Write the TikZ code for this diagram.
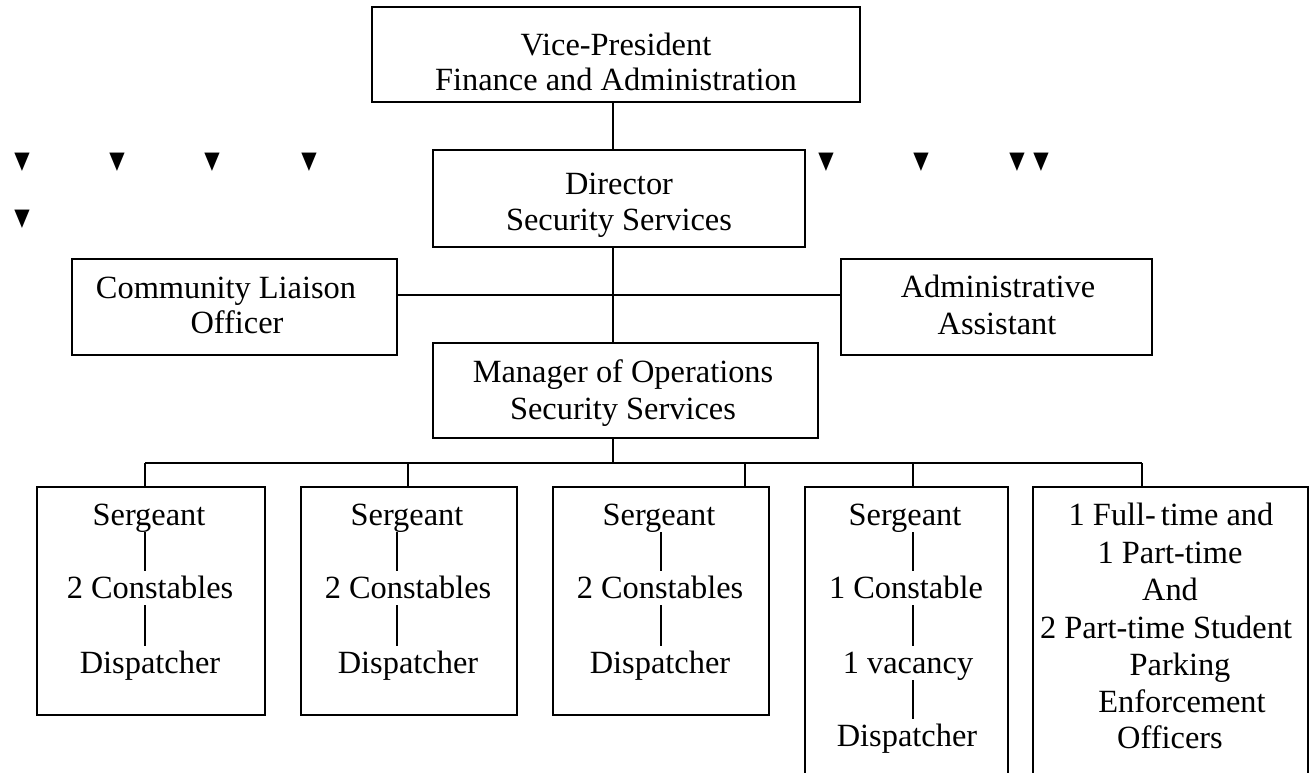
\documentclass[tikz,border=0pt]{standalone}
\usepackage{fontspec}
\setmainfont{Liberation Serif}
\newfontfamily\symfont{DejaVu Sans}
\usetikzlibrary{fit}
\begin{document}
\begin{tikzpicture}[x=0.5pt,y=-0.5pt,
  box/.style={draw, line width=0.9pt, inner sep=0pt},
  txt/.style={font=\fontsize{16.2}{18}\selectfont, inner sep=0pt, anchor=base, text height=11pt, text depth=3.5pt},
  conn/.style={line width=0.9pt},
  inner/.style={line width=0.9pt, shorten >=2.5pt},
  tri/.style={font=\symfont\fontsize{10}{10}\selectfont, inner sep=0pt, yscale=1.2}]
\useasboundingbox (0,0) rectangle (1311,772);
\clip (0,0) rectangle (1311,772);
% top boxes
\node[box, fit={(372,7) (860,102)}] (vp) {};
\node[txt] (vp1) at (616,55) {Vice-President};
\node[txt] (vp2) at (616,90) {Finance and Administration};
\node[box, fit={(433,150) (805,247)}] (dir) {};
\node[txt] (dir1) at (619,194) {Director};
\node[txt] (dir2) at (619,230) {Security Services};
\node[box, fit={(72,259) (397,355)}] (cl) {};
\node[txt] (cl1) at (226,298) {Community Liaison};
\node[txt] (cl2) at (237,333) {Officer};
\node[box, fit={(841,259) (1152,355)}] (aa) {};
\node[txt] (aa1) at (998,297) {Administrative};
\node[txt] (aa2) at (997,334) {Assistant};
\node[box, fit={(433,343) (818,438)}] (mgr) {};
\node[txt] (m1) at (623,382) {Manager of Operations};
\node[txt] (m2) at (623,419) {Security Services};
% spine connectors
\coordinate (sp) at (613,0);
\coordinate (hl) at (613,295);
\draw[conn] (vp.south -| sp) -- (dir.north -| sp);
\draw[conn] (dir.south -| sp) -- (mgr.north -| sp);
\draw[conn] (cl.east |- hl) -- (aa.west |- hl);
% bus
\coordinate (bus) at (613,463);
\coordinate (k1) at (145,463);
\coordinate (k2) at (408,463);
\coordinate (k3) at (745,463);
\coordinate (k4) at (913,463);
\coordinate (k5) at (1142,463);
\draw[conn] (mgr.south -| sp) -- (bus);
\draw[conn] (k1) -- (k5);
% bottom boxes
\node[box, fit={(37,487) (265,715)}] (b1) {};
\node[box, fit={(301,487) (517,715)}] (b2) {};
\node[box, fit={(553,487) (769,715)}] (b3) {};
\node[box, fit={(805,487) (1008,800)}] (b4) {};
\node[box, fit={(1033,487) (1308,800)}] (b5) {};
\draw[conn] (k1) -- (k1 |- b1.north);
\draw[conn] (k2) -- (k2 |- b2.north);
\draw[conn] (k3) -- (k3 |- b3.north);
\draw[conn] (k4) -- (k4 |- b4.north);
\draw[conn] (k5) -- (k5 |- b5.north);
% box 1
\node[txt] (s1) at (149,525) {Sergeant};
\node[txt] (c1) at (150,598) {2 Constables};
\node[txt] (d1) at (150,673) {Dispatcher};
\coordinate (l1) at (145,0);
\draw[inner] (s1.south -| l1) -- (c1.north -| l1);
\draw[inner] (c1.south -| l1) -- (d1.north -| l1);
% box 2
\node[txt] (s2) at (407,525) {Sergeant};
\node[txt] (c2) at (408,598) {2 Constables};
\node[txt] (d2) at (408,673) {Dispatcher};
\coordinate (l2) at (397,0);
\draw[inner] (s2.south -| l2) -- (c2.north -| l2);
\draw[inner] (c2.south -| l2) -- (d2.north -| l2);
% box 3
\node[txt] (s3) at (659,525) {Sergeant};
\node[txt] (c3) at (660,598) {2 Constables};
\node[txt] (d3) at (660,673) {Dispatcher};
\coordinate (l3) at (661,0);
\draw[inner] (s3.south -| l3) -- (c3.north -| l3);
\draw[inner] (c3.south -| l3) -- (d3.north -| l3);
% box 4
\node[txt] (s4) at (905,525) {Sergeant};
\node[txt] (c4) at (906,598) {1 Constable};
\node[txt] (v4) at (908,673) {1 vacancy};
\node[txt] (d4) at (907,746) {Dispatcher};
\coordinate (l4) at (913,0);
\draw[inner] (s4.south -| l4) -- (c4.north -| l4);
\draw[inner] (c4.south -| l4) -- (v4.north -| l4);
\draw[inner] (v4.south -| l4) -- (d4.north -| l4);
% box 5
\node[txt] (p1) at (1171,525) {1 Full-\kern0.15em time and};
\node[txt] (p2) at (1170,563) {1 Part-time};
\node[txt] (p3) at (1170,600) {And};
\node[txt] (p4) at (1166,638) {2 Part-time Student};
\node[txt] (p5) at (1180,675) {Parking};
\node[txt] (p6) at (1182,712) {Enforcement};
\node[txt] (p7) at (1170,748) {Officers};
% stray triangles
\node[tri] (t1) at (22,162) {▼};
\node[tri] (t2) at (117,162) {▼};
\node[tri] (t3) at (212,162) {▼};
\node[tri] (t4) at (309,162) {▼};
\node[tri] (t5) at (22,219) {▼};
\node[tri] (t6) at (826,162) {▼};
\node[tri] (t7) at (921,162) {▼};
\node[tri] (t8) at (1017,162) {▼};
\node[tri] (t9) at (1041,162) {▼};
\end{tikzpicture}
\end{document}
